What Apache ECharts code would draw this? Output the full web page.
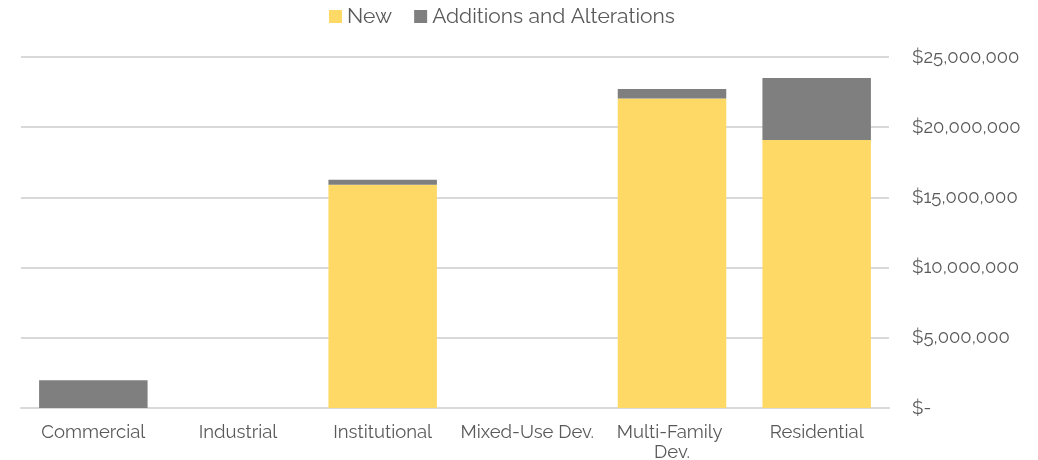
<!DOCTYPE html>
<html>
<head>
    <meta charset="utf-8">
    <title>ECharts</title>
    <script src="https://cdn.jsdelivr.net/npm/echarts@6/dist/echarts.min.js"></script>
    <style>
        html, body { margin: 0; padding: 0; background: #fff; }
    </style>
</head>
<body>
    <div id="main" style="width: 1038px;height:460px;"></div>
    <script type="text/javascript">
// 数据
var categories = ['Commercial', 'Industrial', 'Institutional', 'Mixed-Use Dev.', 'Multi-Family Dev.', 'Residential'];
var newValues = [0, 0, 15900000, 0, 22050000, 19090000];
var additionValues = [1970000, 0, 360000, 0, 670000, 4410000];
var yTicks = [0, 5000000, 10000000, 15000000, 20000000, 25000000];

var fontName = 'Raleway, Lato, "Open Sans", sans-serif';
var textColor = '#595959';

function moneyFmt(v) {
    if (v === 0) return '$-';
    return '$' + v.toString().replace(/\B(?=(\d{3})+(?!\d))/g, ',');
}

var myChart = echarts.init(document.getElementById('main'));
var option = {
    animation: false,
    textStyle: { fontFamily: fontName },
    legend: {
        top: 1,
        left: 324,
        itemWidth: 13,
        itemHeight: 13,
        itemGap: 22,
        icon: 'rect',
        textStyle: { color: textColor, fontSize: 21, fontFamily: fontName },
        data: ['New', 'Additions and Alterations']
    },
    grid: {
        left: 21,
        right: 149,
        top: 57,
        bottom: 52,
        outerBoundsMode: 'none',
        containLabel: false
    },
    xAxis: {
        type: 'category',
        data: categories,
        axisLine: { lineStyle: { color: '#d9d9d9', width: 2 } },
        axisTick: { show: false },
        axisLabel: {
            color: textColor,
            fontSize: 18.5,
            margin: 14,
            interval: 0,
            width: 140,
            overflow: 'break',
            lineHeight: 20
        }
    },
    yAxis: {
        type: 'value',
        position: 'right',
        min: yTicks[0],
        max: yTicks[yTicks.length - 1],
        interval: 5000000,
        axisLine: { show: false },
        axisTick: { show: false },
        splitLine: { lineStyle: { color: '#d9d9d9', width: 2 } },
        axisLabel: {
            color: textColor,
            fontSize: 18.5,
            margin: 23,
            formatter: moneyFmt
        }
    },
    series: [{
        name: 'New',
        type: 'bar',
        stack: 'total',
        barWidth: '75%',
        data: newValues,
        itemStyle: { color: '#FFD966' }
    }, {
        name: 'Additions and Alterations',
        type: 'bar',
        stack: 'total',
        barWidth: '75%',
        data: additionValues,
        itemStyle: { color: '#7F7F7F' }
    }]
};
myChart.setOption(option);
    </script>
</body>
</html>
